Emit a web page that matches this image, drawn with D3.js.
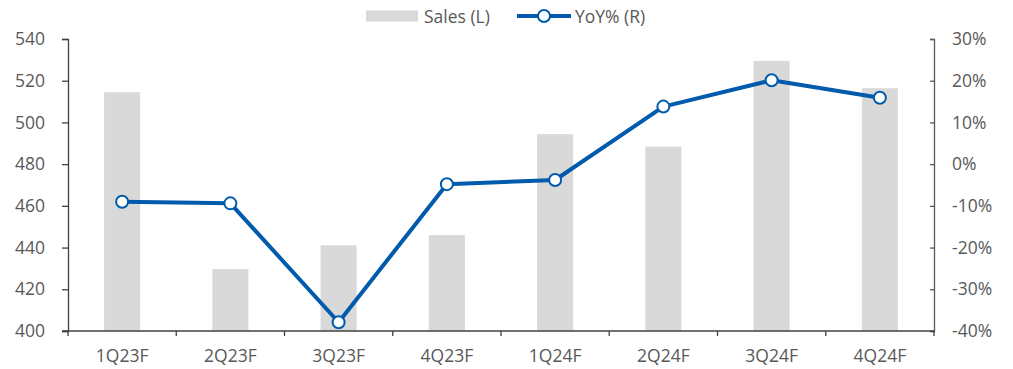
<!DOCTYPE html>
<html>
<head>
<meta charset="utf-8">
<script src="https://cdn.jsdelivr.net/npm/d3@7"></script>
<style>
  html, body { margin: 0; padding: 0; background: #fff; }
  svg { display: block; }
  text { font-family: "Open Sans", "Noto Sans", sans-serif; fill: #595959; }
</style>
</head>
<body>
<svg id="chart" width="1013" height="369"></svg>
<script>
// Quarterly sales (left axis) and YoY growth in % (right axis)
const categories = ["1Q23F", "2Q23F", "3Q23F", "4Q23F", "1Q24F", "2Q24F", "3Q24F", "4Q24F"];
const sales = [514.5, 429.7, 441.1, 446.0, 494.4, 488.4, 529.5, 516.4];
const yoy = [-9.0, -9.4, -37.9, -4.8, -3.8, 13.8, 20.1, 15.9];
const leftTicks = [400, 420, 440, 460, 480, 500, 520, 540];
const rightTicks = [-40, -30, -20, -10, 0, 10, 20, 30];
const legendLabels = ["Sales (L)", "YoY% (R)"];

const svg = d3.select("#chart");
const margin = { left: 68, right: 79, top: 39, bottom: 38 };
const W = 1013, H = 369;
const x0 = margin.left, x1 = W - margin.right;
const y0 = H - margin.bottom, y1 = margin.top;
const fs = 17.5;

const barColor = "#d9d9d9";
const lineColor = "#005bac";
const axisColor = "#404040";

const x = d3.scaleBand().domain(categories).range([x0, x1]).paddingInner(0).paddingOuter(0);
const yL = d3.scaleLinear().domain([400, 540]).range([y0, y1]);
const yR = d3.scaleLinear().domain([-40, 30]).range([y0, y1]);
const barW = x.bandwidth() / 3;

// Bars
svg.append("g").selectAll("rect")
  .data(categories)
  .join("rect")
  .attr("x", (d) => x(d) + x.bandwidth() / 2 - barW / 2)
  .attr("width", barW)
  .attr("y", (d, i) => yL(sales[i]))
  .attr("height", (d, i) => yL(400) - yL(sales[i]))
  .attr("fill", barColor);

// Left axis
const gL = svg.append("g").attr("transform", `translate(${x0},0)`)
  .call(d3.axisLeft(yL).tickValues(leftTicks).tickSize(6).tickPadding(17).tickFormat(d3.format("d")));
gL.select(".domain").attr("stroke", axisColor).attr("stroke-width", 1.3);
gL.selectAll(".tick line").attr("stroke", axisColor).attr("stroke-width", 1.3);
gL.selectAll("text").attr("font-size", fs).attr("fill", "#595959");

// Right axis
const gR = svg.append("g").attr("transform", `translate(${x1},0)`)
  .call(d3.axisRight(yR).tickValues(rightTicks).tickSize(-4).tickPadding(18).tickFormat((d) => d + "%"));
gR.select(".domain").attr("stroke", "#595959").attr("stroke-width", 1.3);
gR.selectAll(".tick line").attr("stroke", "#595959").attr("stroke-width", 1.3);
gR.selectAll("text").attr("font-size", fs).attr("fill", "#595959");

// Bottom axis with ticks on category boundaries
const gB = svg.append("g").attr("transform", `translate(0,${y0})`);
gB.append("line").attr("x1", x0 - 6).attr("x2", x1).attr("y1", 0).attr("y2", 0)
  .attr("stroke", axisColor).attr("stroke-width", 1.3);
const bounds = categories.map((c) => x(c)).concat([x1]);
gB.selectAll("line.tk").data(bounds).join("line").attr("class", "tk")
  .attr("x1", (d) => d).attr("x2", (d) => d).attr("y1", 0).attr("y2", 5)
  .attr("stroke", axisColor).attr("stroke-width", 1.3);
gB.selectAll("text").data(categories).join("text")
  .attr("x", (d) => x(d) + x.bandwidth() / 2).attr("y", 31)
  .attr("text-anchor", "middle").attr("font-size", fs)
  .text((d) => d);

// YoY line with markers
const line = d3.line().x((d, i) => x(categories[i]) + x.bandwidth() / 2).y((d) => yR(d));
svg.append("path").datum(yoy).attr("d", line)
  .attr("fill", "none").attr("stroke", lineColor).attr("stroke-width", 4).attr("stroke-linejoin", "round");
svg.append("g").selectAll("circle").data(yoy).join("circle")
  .attr("cx", (d, i) => x(categories[i]) + x.bandwidth() / 2)
  .attr("cy", (d) => yR(d)).attr("r", 6)
  .attr("fill", "#fff").attr("stroke", lineColor).attr("stroke-width", 2);

// Legend
const lg = svg.append("g");
lg.append("rect").attr("x", 366).attr("y", 10.5).attr("width", 52).attr("height", 11).attr("fill", barColor);
lg.append("text").attr("x", 424).attr("y", 22.5).attr("font-size", fs).text(legendLabels[0]);
lg.append("line").attr("x1", 517).attr("x2", 571).attr("y1", 16).attr("y2", 16)
  .attr("stroke", lineColor).attr("stroke-width", 4);
lg.append("circle").attr("cx", 544).attr("cy", 16).attr("r", 6)
  .attr("fill", "#fff").attr("stroke", lineColor).attr("stroke-width", 2);
lg.append("text").attr("x", 575).attr("y", 22.5).attr("font-size", fs).text(legendLabels[1]);
</script>
</body>
</html>
